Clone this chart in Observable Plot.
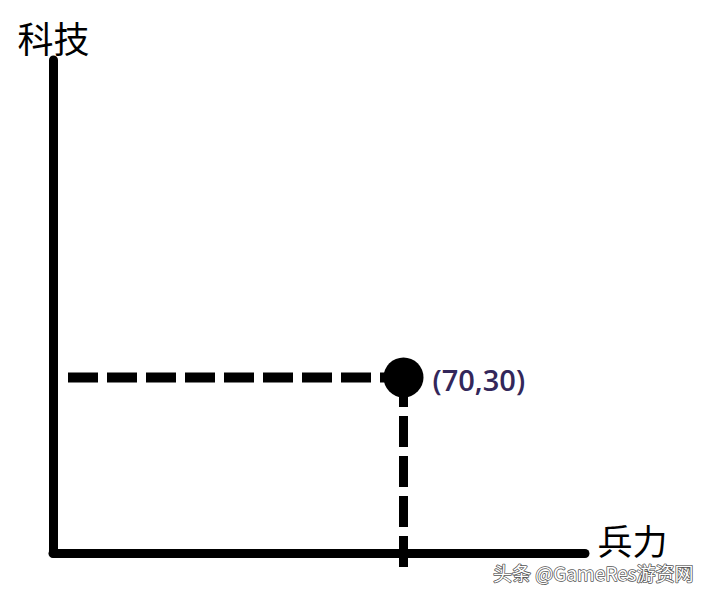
<!DOCTYPE html>
<html>
<head>
<meta charset="utf-8">
<script src="https://cdn.jsdelivr.net/npm/d3@7"></script>
<script src="https://cdn.jsdelivr.net/npm/@observablehq/plot@0.6"></script>
<style>
  html, body { margin: 0; padding: 0; background: #fff; }
  #chart svg { display: block; }
</style>
</head>
<body>
<div id="chart"></div>
<script>
// Data
const xLabel = "兵力";
const yLabel = "科技";
const pointX = [70];
const pointY = [30];
const pointLabels = ["(70,30)"];
const xDomain = [0, 100];
const yDomain = [0, 84];
const axisXEnd = [106.4];
const axisYEnd = [84];
const dashStartX = [3];
const dashEndY = [-2.4];
const watermark = ["头条 @GameRes游资网"];

const pts = pointX.map((x, i) => ({x, y: pointY[i], label: pointLabels[i]}));
const font = "'Noto Sans CJK SC', 'Noto Sans', sans-serif";

const chart = Plot.plot({
  width: 710,
  height: 596,
  marginLeft: 53,
  marginRight: 157,
  marginTop: 60,
  marginBottom: 43,
  x: {domain: xDomain, axis: null},
  y: {domain: yDomain, axis: null},
  style: {background: "#fff", overflow: "visible"},
  marks: [
    // horizontal dashed guide
    Plot.ruleY(pts, {y: "y", x1: () => dashStartX[0], x2: "x", stroke: "#000", strokeWidth: 10, strokeDasharray: "30,9"}),
    // vertical dashed guide (drawn from below the axis up to the point)
    Plot.ruleX(pts, {x: "x", y1: () => dashEndY[0], y2: "y", stroke: "#000", strokeWidth: 9, strokeDasharray: "31,9"}),
    // axes
    Plot.ruleY([0], {x1: 0, x2: axisXEnd[0], stroke: "#000", strokeWidth: 9, strokeLinecap: "round"}),
    Plot.ruleX([0], {y1: 0, y2: axisYEnd[0], stroke: "#000", strokeWidth: 9, strokeLinecap: "round"}),
    // the point
    Plot.dot(pts, {x: "x", y: "y", r: 20, fill: "#000"}),
    Plot.text(pts, {x: "x", y: "y", text: "label", dx: 29, dy: 4, textAnchor: "start", fontSize: 29, fontWeight: 600, fill: "#33275a", fontFamily: "'Open Sans', sans-serif"}),
    // axis titles
    Plot.text([yLabel], {frameAnchor: "top-left", text: d => d, dy: -19, textAnchor: "middle", lineAnchor: "middle", fontSize: 36, fill: "#000", fontFamily: font}),
    Plot.text([xLabel], {frameAnchor: "bottom-right", text: d => d, dx: 44, dy: -10, textAnchor: "start", lineAnchor: "middle", fontSize: 35, fill: "#000", fontFamily: font}),
    // watermark
    Plot.text(watermark, {frameAnchor: "bottom-right", text: d => d, dx: 140, dy: 21, textAnchor: "end", lineAnchor: "middle", fontSize: 19, fill: "#fff", stroke: "#555", strokeWidth: 1.5, paintOrder: "stroke", fontFamily: font})
  ]
});
document.getElementById("chart").appendChild(chart);
</script>
</body>
</html>
